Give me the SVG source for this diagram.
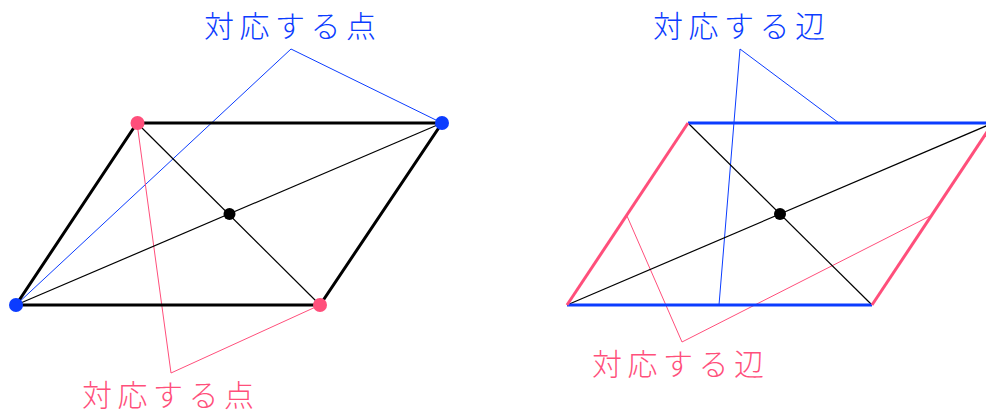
<svg xmlns="http://www.w3.org/2000/svg" width="986" height="414" viewBox="0 0 986 414">
<style>
.edge{stroke:#000;stroke-width:3;fill:none;stroke-linecap:round}
.diag{stroke:#000;stroke-width:1.2;fill:none}
.bl{stroke:#0b3cff;stroke-width:1;fill:none}
.pk{stroke:#ff4f7b;stroke-width:1;fill:none}
.be{stroke:#0b3cff;stroke-width:3;fill:none}
.pe{stroke:#ff4f7b;stroke-width:3;fill:none}
.lbl{font-family:"Noto Sans CJK JP","Noto Sans",sans-serif;font-size:30px;font-weight:300;letter-spacing:5.5px}
.tb{fill:#0b3cff}
.tp{fill:#ff4f7b}
</style>
<rect width="986" height="414" fill="#fff"/>
<g id="connectors">
<polyline class="bl" points="16,305 291,49 442,123"/>
<polyline class="pk" points="137,123 171,373 320,305"/>
<polyline class="bl" points="719,305 740,49 839,123"/>
<polyline class="pk" points="627,216 682,342 932,215"/>
</g>
<g id="fig1">
<polygon class="edge" points="137,123 442,123 320,305 16,305"/>
<line class="diag" x1="16" y1="305" x2="442" y2="123"/>
<line class="diag" x1="137" y1="123" x2="320" y2="305"/>
</g>
<g id="fig2">
<line class="diag" x1="567" y1="305" x2="993" y2="123"/>
<line class="diag" x1="688" y1="123" x2="872" y2="305"/>
<line class="be" x1="688" y1="123" x2="993" y2="123"/>
<line class="be" x1="567" y1="305" x2="872" y2="305"/>
<line class="pe" x1="567" y1="305" x2="688" y2="123"/>
<line class="pe" x1="872" y1="305" x2="993" y2="123"/>
</g>
<g id="points">
<circle id="p-tl" cx="137.5" cy="123" r="7" fill="#ff4f7b"/>
<circle id="p-br" cx="320" cy="305" r="7" fill="#ff4f7b"/>
<circle id="p-tr" cx="442" cy="123" r="7" fill="#0b3cff"/>
<circle id="p-bl" cx="16" cy="305" r="7" fill="#0b3cff"/>
<circle id="c1" cx="229.5" cy="214" r="6" fill="#000"/>
<circle id="c2" cx="780" cy="214" r="6" fill="#000"/>
</g>
<g id="label1"><text class="lbl tb" x="204" y="37">対応する点</text></g>
<g id="label2"><text class="lbl tp" x="82" y="406">対応する点</text></g>
<g id="label3"><text class="lbl tb" x="653" y="37">対応する辺</text></g>
<g id="label4"><text class="lbl tp" x="592" y="375">対応する辺</text></g>
</svg>
